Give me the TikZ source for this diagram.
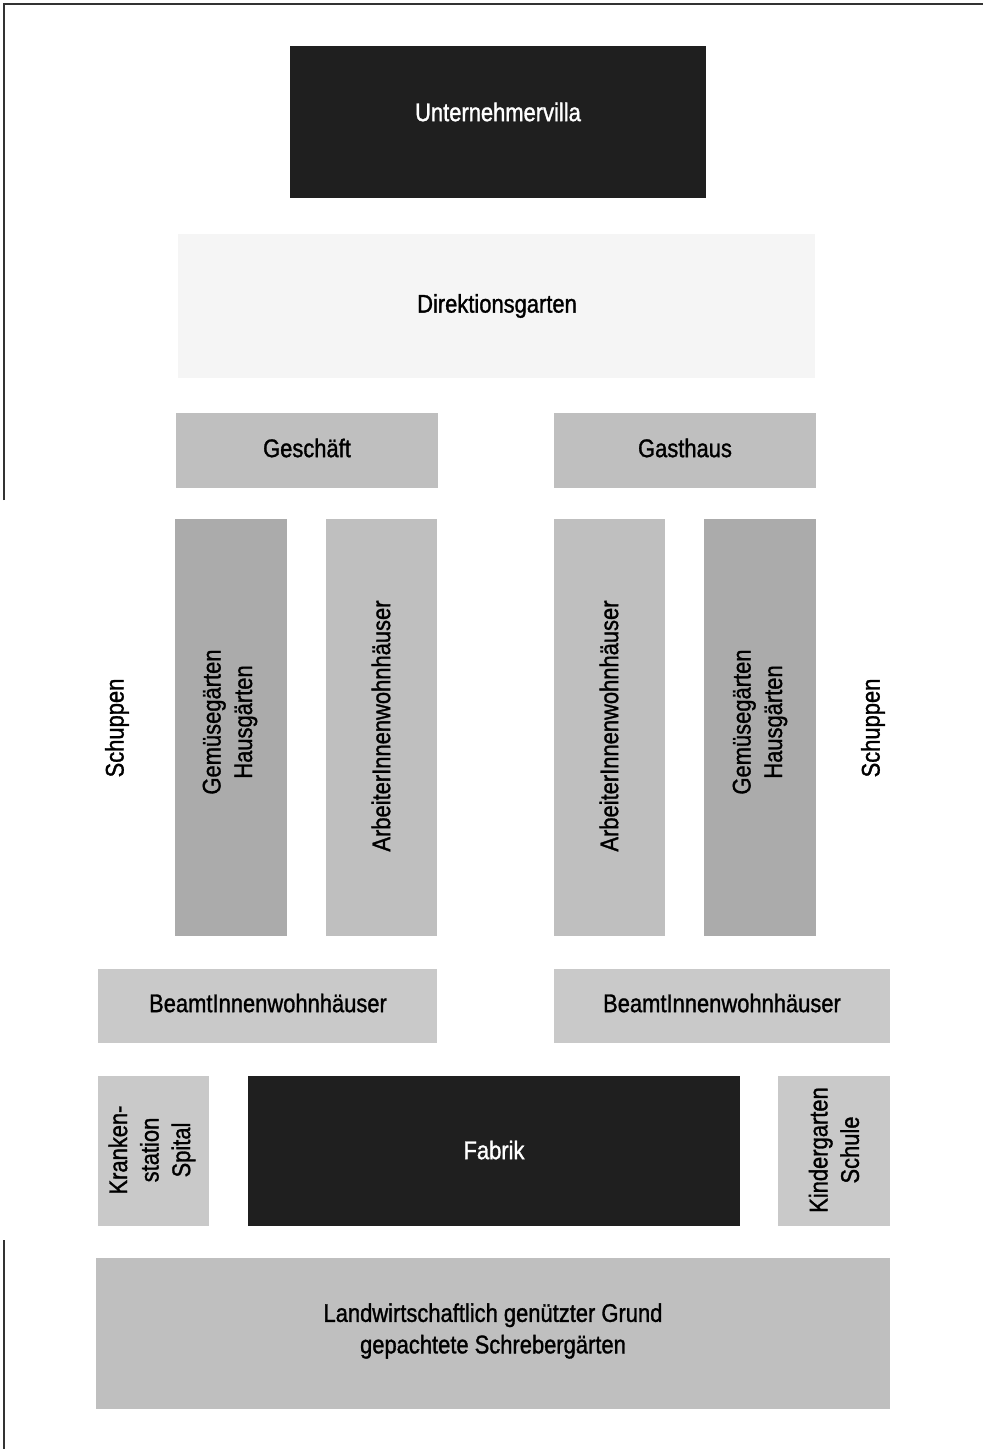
\documentclass[tikz,border=0pt]{standalone}
\usepackage{fontspec}
\setmainfont[FakeStretch=0.86,FakeBold=1.2]{Liberation Sans}
\begin{document}
\begin{tikzpicture}[x=1pt,y=-1pt,
  dark/.style={fill=black!88},
  gA/.style={fill=black!33},
  gB/.style={fill=black!25},
  gC/.style={fill=black!21},
  lbl/.style={font=\fontsize{25.5}{31.5}\selectfont, align=center, inner sep=0pt},
  frame/.style={line width=1.3pt, black!80}]
\useasboundingbox (0,0) rectangle (983,1449);
\fill[white] (0,0) rectangle (983,1449);
% frame fragments
\coordinate (tl) at (4,4);
\coordinate (tr) at (983,4);
\coordinate (l1) at (4,500);
\coordinate (l2) at (4,1240);
\coordinate (l3) at (4,1449);
\draw[frame] (l1) -- (tl) -- (tr);
\draw[frame] (l2) -- (l3);
% areas
\fill[dark] (290,46) rectangle (706,198);
\node[lbl, text=white] (villa) at (498,112) {Unternehmervilla};
\fill[black!4] (178,234) rectangle (815,378);
\node[lbl] (dir) at (497,306) {Direktionsgarten};
\fill[gB] (176,413) rectangle (438,488);
\node[lbl] (gesch) at (307,448) {Geschäft};
\fill[gB] (554,413) rectangle (816,488);
\node[lbl] (gast) at (685,448) {Gasthaus};
\fill[gA] (175,519) rectangle (287,936);
\node[lbl, rotate=90] (gem1) at (230,722) {Gemüsegärten\\Hausgärten};
\fill[gB] (326,519) rectangle (437,936);
\node[lbl, rotate=90] (arb1) at (381,726) {ArbeiterInnenwohnhäuser};
\fill[gB] (554,519) rectangle (665,936);
\node[lbl, rotate=90] (arb2) at (609,726) {ArbeiterInnenwohnhäuser};
\fill[gA] (704,519) rectangle (816,936);
\node[lbl, rotate=90] (gem2) at (760,722) {Gemüsegärten\\Hausgärten};
\node[lbl, rotate=90] (sch1) at (117,728) {Schuppen};
\node[lbl, rotate=90] (sch2) at (873,728) {Schuppen};
\fill[gC] (98,969) rectangle (437,1043);
\node[lbl] (beam1) at (268,1003) {BeamtInnenwohnhäuser};
\fill[gC] (554,969) rectangle (890,1043);
\node[lbl] (beam2) at (722,1003) {BeamtInnenwohnhäuser};
\fill[gC] (98,1076) rectangle (209,1226);
\node[lbl, rotate=90] (kran) at (152,1150) {Kranken-\\station\\Spital};
\fill[dark] (248,1076) rectangle (740,1226);
\node[lbl, text=white] (fab) at (494,1150) {Fabrik};
\fill[gC] (778,1076) rectangle (890,1226);
\node[lbl, rotate=90] (kind) at (834,1150) {Kindergarten\\Schule};
\fill[gB] (96,1258) rectangle (890,1409);
\node[lbl] (land) at (493,1331) {Landwirtschaftlich genützter Grund\\gepachtete Schrebergärten};
\end{tikzpicture}
\end{document}
